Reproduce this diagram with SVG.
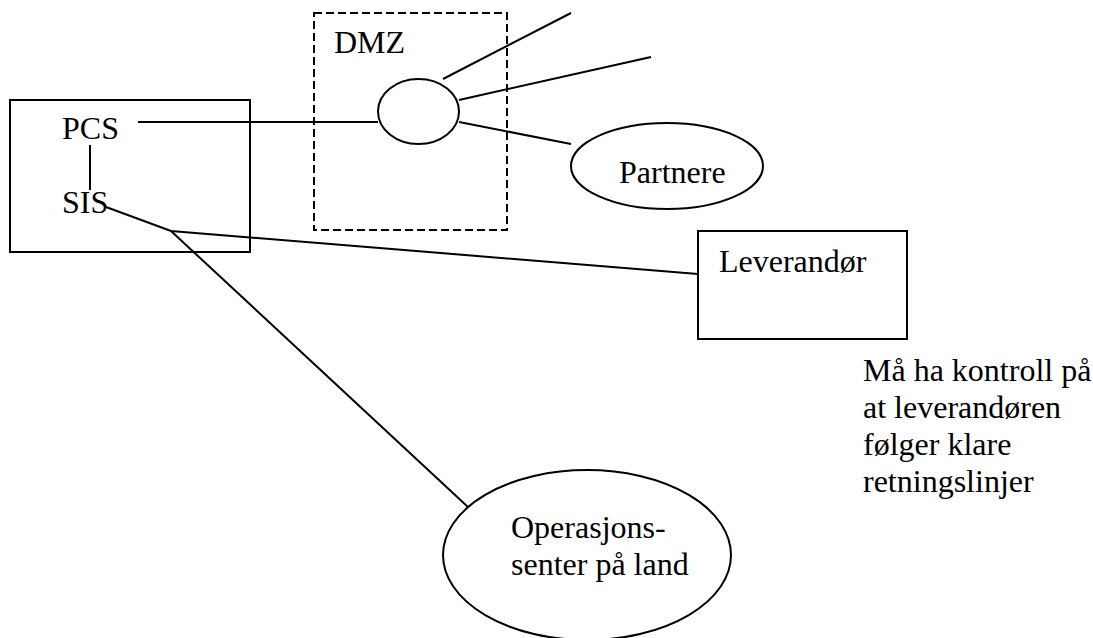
<svg xmlns="http://www.w3.org/2000/svg" width="1093" height="638" viewBox="0 0 1093 638">
<style>
.s{fill:none;stroke:#000;stroke-width:2}
.d{fill:none;stroke:#000;stroke-width:2;stroke-dasharray:8 4}
.t{font-family:'Liberation Serif','Times New Roman',serif;font-size:32px;fill:#000}
</style>
<rect width="1093" height="638" fill="#fff"/>
<g id="connectors">
<line class="s" x1="90" y1="145" x2="90" y2="190"/>
<line class="s" x1="138" y1="122" x2="378" y2="122"/>
<line class="s" x1="443" y1="79" x2="571" y2="13"/>
<line class="s" x1="459" y1="100" x2="651" y2="57"/>
<line class="s" x1="459" y1="122" x2="571" y2="144"/>
<polyline class="s" points="106,207 171,231 698,274"/>
<line class="s" x1="171" y1="231" x2="468" y2="507"/>
</g>
<g font-family="Liberation Serif, Times New Roman, serif" font-size="32">
<g id="host">
<rect class="s" x="10" y="100" width="240" height="152"/>
<text class="t" x="62" y="139">PCS</text>
<text class="t" x="62" y="213">SIS</text>
</g>
<g id="dmz">
<rect class="d" x="314" y="13" width="193" height="217"/>
<text class="t" x="334" y="53">DMZ</text>
</g>
<g id="hub">
<ellipse class="s" cx="418.5" cy="111.5" rx="40.5" ry="32.5"/>
</g>
<g id="partnere">
<ellipse class="s" cx="667" cy="166" rx="96" ry="43"/>
<text class="t" x="619" y="183">Partnere</text>
</g>
<g id="leverandor">
<rect class="s" x="698" y="231" width="209" height="108"/>
<text class="t" x="719" y="272">Leverandør</text>
</g>
<g id="note">
<text class="t" x="863" y="381">Må ha kontroll på</text>
<text class="t" x="863" y="418">at leverandøren</text>
<text class="t" x="863" y="455">følger klare</text>
<text class="t" x="863" y="492">retningslinjer</text>
</g>
<g id="operasjonssenter">
<ellipse class="s" cx="587" cy="555" rx="144" ry="85"/>
<text class="t" x="511" y="538">Operasjons-</text>
<text class="t" x="511" y="575">senter på land</text>
</g>
</g>
</svg>
